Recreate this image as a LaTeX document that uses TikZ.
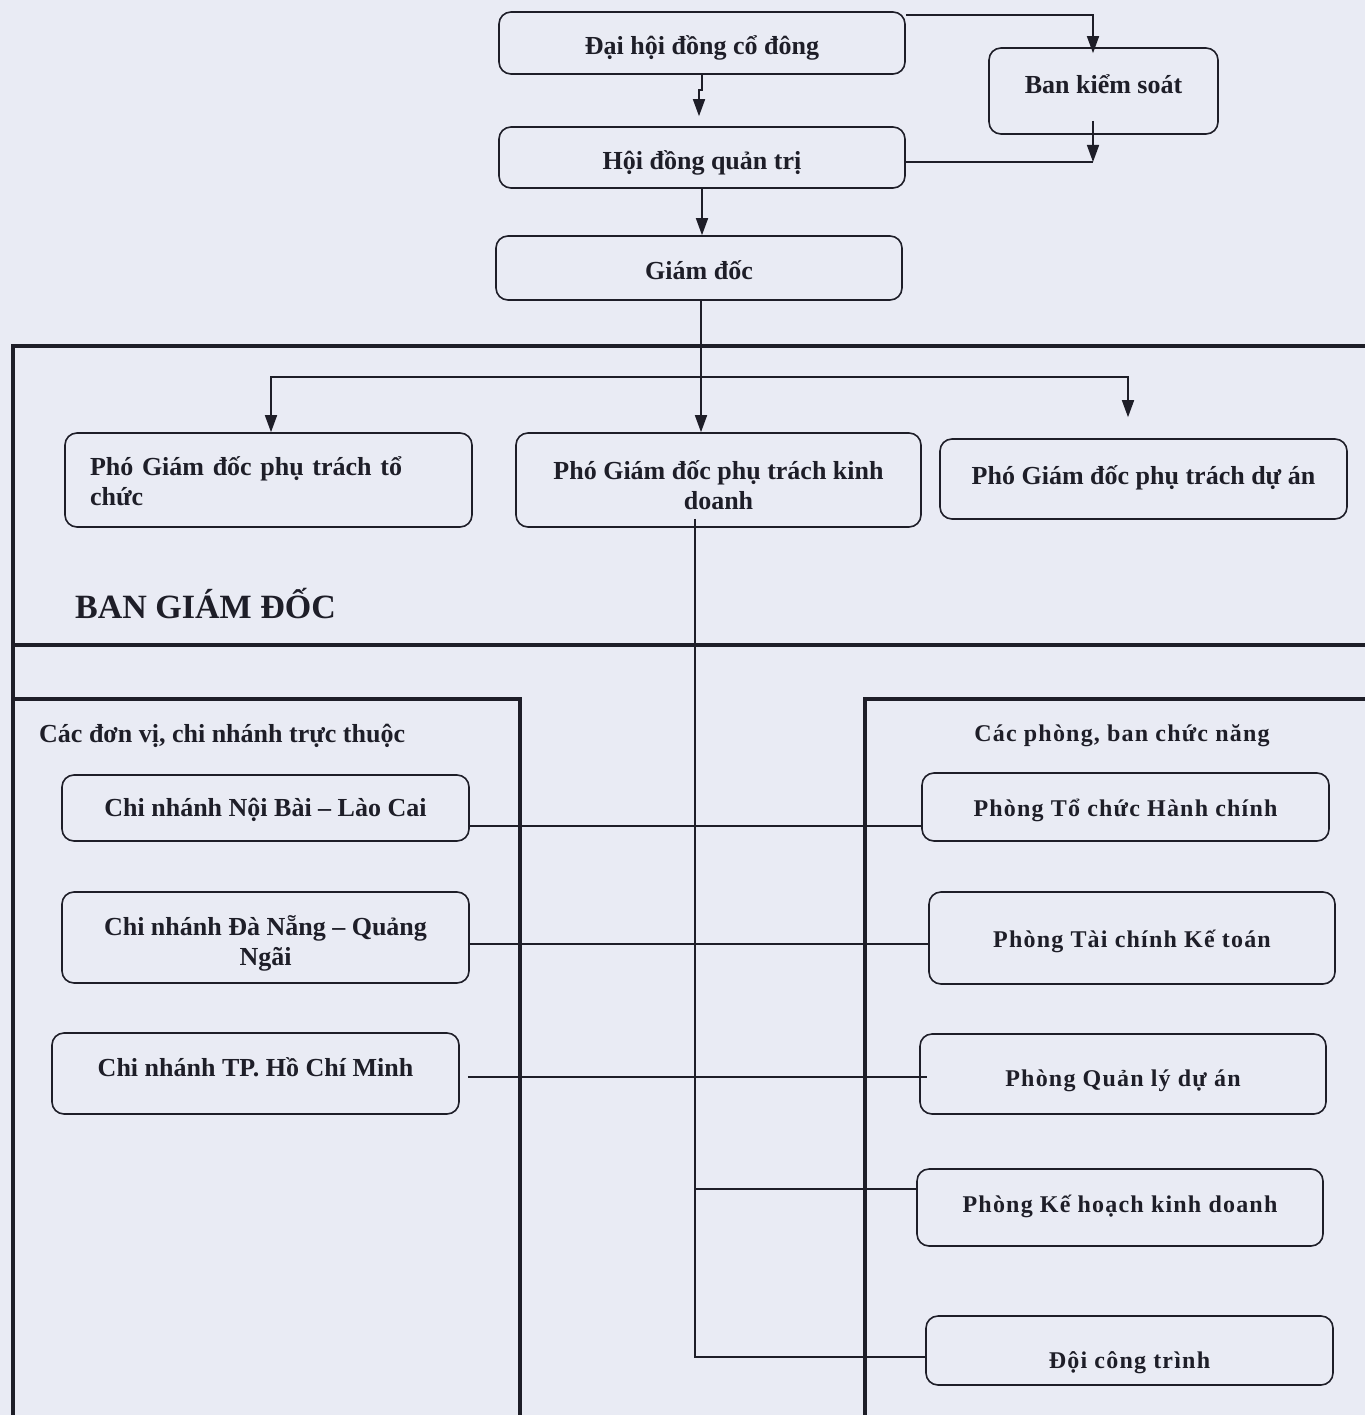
\documentclass[tikz,border=0pt]{standalone}
\usepackage{fontspec}
\setmainfont{Liberation Serif}
\newfontfamily\widefont[LetterSpace=5]{Liberation Serif}
\usetikzlibrary{arrows.meta, positioning}
\definecolor{paper}{RGB}{233,235,244}
\definecolor{ink}{RGB}{30,30,40}

\begin{document}
\begin{tikzpicture}[
            x=1pt, y=-1pt,
            unit/.style={draw=ink, line width=1.6pt, rounded corners=12pt, text=ink, inner sep=0pt,
                align=center, font=\fontsize{26}{30}\selectfont\bfseries},
            wide/.style={unit, font=\widefont\fontsize{24}{30}\selectfont\bfseries},
            dims/.style 2 args={minimum width=#1pt, minimum height=#2pt},
            drop/.style={text height=#1pt, text depth=6pt},
            frame/.style={draw=ink, line width=3.5pt},
            link/.style={draw=ink, line width=1.6pt},
            arrow/.style={link, -{Triangle[length=17pt, width=12pt]}}
        ]
            % Paper
            \fill[paper] (0,0) rectangle (1365,1415);
            \useasboundingbox (0,0) rectangle (1365,1415);

            % Frames
            \draw[frame] (13,1415) -- (13,346) -- (1365,346);
            \draw[frame] (13,645) -- (1365,645);
            \draw[frame] (13,699) -- (520,699) -- (520,1415);
            \draw[frame] (865,1415) -- (865,699) -- (1365,699);

            % Top levels
            \node[unit, dims={406}{62}, drop=30] (dhdcd) at (702,43) {Đại hội đồng cổ đông};
            \node[unit, dims={229}{86}, drop=12] (bks) at (1103.5,91) {Ban kiểm soát};
            \node[unit, dims={406}{61}, drop=31] (hdqt) at (702,157.5) {Hội đồng quản trị};
            \node[unit, dims={406}{64}, drop=28] (gd) at (699,268) {Giám đốc};

            % Deputies
            \node[unit, dims={407}{94}, align=left, text width=357pt, inner xsep=25pt,
                text height=20pt, text depth=30pt] (pgdtc) at (268.5,480)
                {Phó Giám đốc phụ trách tổ\\chức};
            \node[unit, dims={405}{94}, text height=58pt, text depth=0pt] (pgdkd) at (718.5,480)
                {Phó Giám đốc phụ trách kinh\\doanh};
            \node[unit, dims={407}{80}, drop=16] (pgdda) at (1143.5,479) {Phó Giám đốc phụ trách dự án};
            \node[anchor=west, inner sep=0pt, text=ink, font=\fontsize{34}{40}\selectfont\bfseries] (bgd) at (75,604)
                {BAN GIÁM ĐỐC};

            % Branches
            \node[anchor=west, inner sep=0pt, text=ink, font=\fontsize{26}{30}\selectfont\bfseries] (dvhead) at (39,736)
                {Các đơn vị, chi nhánh trực thuộc};
            \node[unit, dims={407}{66}, drop=22] (cnnb) at (265.5,808) {Chi nhánh Nội Bài – Lào Cai};
            \node[unit, dims={407}{91}, text height=55pt, text depth=0pt] (cndn) at (265.5,937.5)
                {Chi nhánh Đà Nẵng – Quảng\\Ngãi};
            \node[unit, dims={407}{81}, drop=11] (cnhcm) at (255.5,1073.5) {Chi nhánh TP. Hồ Chí Minh};

            % Departments
            \node[inner sep=0pt, text=ink, font=\widefont\fontsize{24}{30}\selectfont\bfseries] (pbhead) at (1122,736)
                {Các phòng, ban chức năng};
            \node[wide, dims={407}{68}, drop=24] (ptchc) at (1125.5,807) {Phòng Tổ chức Hành chính};
            \node[wide, dims={406}{92}, drop=24] (ptckt) at (1132,938) {Phòng Tài chính Kế toán};
            \node[wide, dims={406}{80}, drop=30] (pqlda) at (1123,1074) {Phòng Quản lý dự án};
            \node[wide, dims={406}{77}, drop=15] (pkhkd) at (1120,1207.5) {Phòng Kế hoạch kinh doanh};
            \node[wide, dims={407}{69}, drop=41] (dct) at (1129.5,1350.5) {Đội công trình};

            % Connections, top
            \draw[arrow] ([yshift=-4pt]dhdcd.north east) -| ([xshift=-10.5pt,yshift=-6pt]bks.north);
            \draw[arrow] (dhdcd.south) |- (699,90) -- ([xshift=-3pt,yshift=10pt]hdqt.north);
            \coordinate (bkso) at (1093,162);
            \draw[link] ([yshift=-4.5pt]hdqt.east) -- (bkso);
            \draw[arrow] ([xshift=-10.5pt,yshift=14pt]bks.south) -- (bkso);
            \draw[arrow] (hdqt.south) -- (hdqt.south |- gd.north);

            % Connections, deputies
            \coordinate (split) at (701,377);
            \draw[arrow] ([xshift=2pt]gd.south) -- ([xshift=2pt]gd.south |- pgdkd.north);
            \draw[arrow] (split) -| ([xshift=2.5pt]pgdtc.north);
            \draw[arrow] (split) -| ([xshift=-15.5pt,yshift=21pt]pgdda.north);

            % Connections, below
            \coordinate (kd) at ([xshift=-23.5pt,yshift=9pt]pgdkd.south);
            \draw[link] (kd) |- ([yshift=-6.5pt]dct.west);
            \draw[link] ([yshift=18.5pt]pkhkd.west) -| (kd);
            \draw[link] ([yshift=-18pt]cnnb.east) -- ([yshift=-19pt]ptchc.west);
            \draw[link] ([yshift=-6.5pt]cndn.east) -- ([yshift=-6pt]ptckt.west);
            \draw[link] ([xshift=8pt,yshift=-3.5pt]cnhcm.east) -- ([xshift=8pt,yshift=-3pt]pqlda.west);
        \end{tikzpicture}
\end{document}
